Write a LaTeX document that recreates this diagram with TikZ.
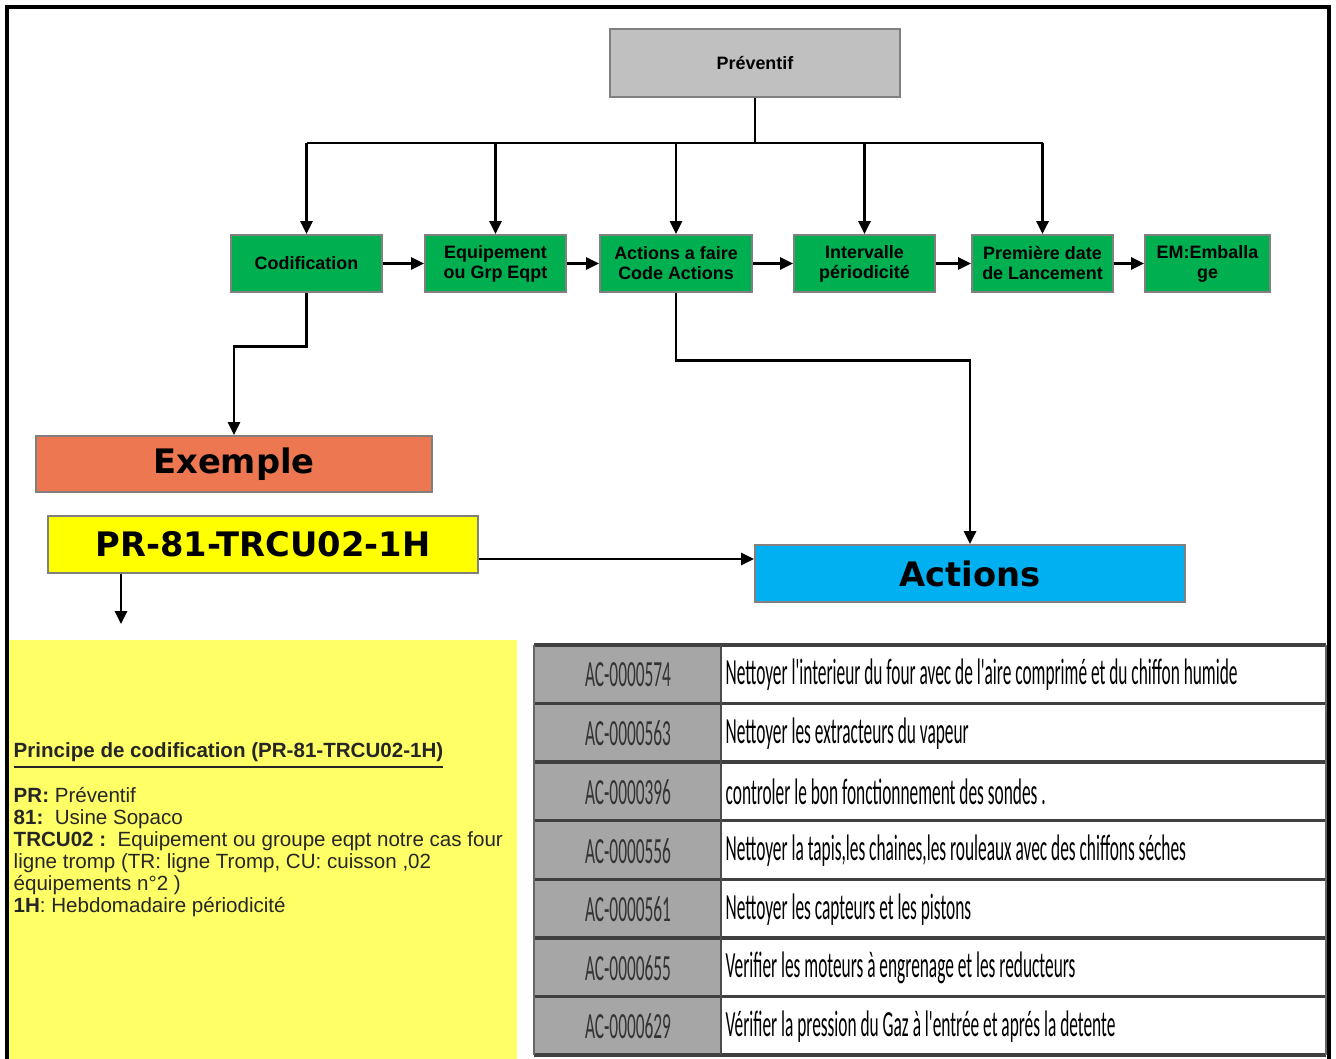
\documentclass[tikz,border=0pt]{standalone}
\usepackage{fontspec}
\setmainfont{Liberation Sans}
\newfontfamily\titlefont{DejaVu Sans}
\newfontfamily\narrowfont[FakeStretch=0.47]{Carlito}
\definecolor{prevGray}{RGB}{192,192,192}
\definecolor{boxGreen}{RGB}{0,176,80}
\definecolor{exOrange}{RGB}{237,119,80}
\definecolor{codeYellow}{RGB}{255,255,0}
\definecolor{actBlue}{RGB}{0,176,240}
\definecolor{panelYellow}{RGB}{255,255,102}
\definecolor{cellGray}{RGB}{166,166,166}
\definecolor{edgeGray}{RGB}{128,128,128}
\usetikzlibrary{arrows.meta,calc}

\begin{document}
\begin{tikzpicture}[x=0.1mm, y=-0.1mm,
    box/.style={rectangle, draw=edgeGray, line width=0.5pt, inner sep=0pt,
                align=center, font=\bfseries\fontsize{5.1}{5.7}\selectfont},
    stepbox/.style={box, fill=boxGreen, minimum height=5.7mm},
    bigbox/.style={box, minimum height=5.7mm,
                   font=\titlefont\bfseries\fontsize{9.6}{11}\selectfont},
    line/.style={line width=0.8pt},
    arr/.style={line, -{Triangle[length=1.3mm, width=1.2mm]}}
  ]
  \useasboundingbox (0,0) rectangle (1336,1059);
  % frame
  \draw[line width=1pt] (7,1059) -- (7,7) -- (1329,7) -- (1329,1059);

  % top row
  \node[box, fill=prevGray, minimum width=29mm, minimum height=6.8mm] (prev) at (755,63) {Préventif};
  \node[stepbox, minimum width=15.1mm] (cod)   at (306.5,263.5) {Codification};
  \node[stepbox, minimum width=14.1mm] (eqp)   at (495.5,263.5) {Equipement\\ou Grp Eqpt};
  \node[stepbox, minimum width=15.2mm] (act)   at (676,263.5)   {Actions a faire\\Code Actions};
  \node[stepbox, minimum width=14.1mm] (inter) at (864.5,263.5) {Intervalle\\périodicité};
  \node[stepbox, minimum width=14.1mm] (prem)  at (1042.5,263.5) {Première date\\de Lancement};
  \node[stepbox, minimum width=12.5mm] (emb)   at (1207.5,263.5) {EM:Emballa\\ge};

  \coordinate (bus) at (755,143);
  \draw[line] (prev.south) -- (bus);
  \draw[line] (bus -| cod.north) -- (bus -| prem.north);
  \foreach \n in {cod,eqp,act,inter,prem}
    \draw[arr] (bus -| \n.north) -- (\n.north);
  \draw[arr] (cod) -- (eqp);
  \draw[arr] (eqp) -- (act);
  \draw[arr] (act) -- (inter);
  \draw[arr] (inter) -- (prem);
  \draw[arr] (prem) -- (emb);

  % example
  \node[bigbox, fill=exOrange, minimum width=39.6mm, minimum height=5.6mm] (ex) at (234,464) {Exemple};
  \node[bigbox, fill=codeYellow, minimum width=43mm] (code) at (263,544.5) {PR-81-TRCU02-1H};
  \node[bigbox, fill=actBlue, minimum width=43mm] (actions) at (970,573.5) {Actions};

  \draw[arr] (cod.south) -- ++(0,54) -| (ex.north);
  \draw[arr] (act.south) -- ++(0,68) -| (actions.north);
  \draw[arr] ([yshift=-1.45mm]code.east) -- ([yshift=-1.45mm]code.east -| actions.west);
  \coordinate (codeend) at (121,624);
  \draw[arr] (code.south -| codeend) -- (codeend);

  % principle panel
  \fill[panelYellow] (9,640) rectangle (517,1059);
  \node[anchor=north west, inner sep=0pt, align=left, text=black!85,
        font=\fontsize{5.85}{6.26}\selectfont] (rule) at (13,742)
    {\textbf{\underline{Principe de codification (PR-81-TRCU02-1H)}}\\[4.3pt]
     \textbf{PR:} Préventif\\
     \textbf{81:}\ \ Usine Sopaco\\
     \textbf{TRCU02 :}\ \ Equipement ou groupe eqpt notre cas four\\
     ligne tromp (TR: ligne Tromp, CU: cuisson ,02\\
     équipements n°2 )\\
     \textbf{1H}: Hebdomadaire périodicité};

  % actions table
  \foreach \c/\t [count=\i] in {
      AC-0000574/{Nettoyer l'interieur du four avec de l'aire comprimé et du chiffon humide},
      AC-0000563/{Nettoyer les extracteurs du vapeur},
      AC-0000396/{controler le bon fonctionnement des sondes .},
      AC-0000556/{Nettoyer la tapis,les chaines,les rouleaux avec des chiffons séches},
      AC-0000561/{Nettoyer les capteurs et les pistons},
      AC-0000655/{Verifier les moteurs à engrenage et les reducteurs},
      AC-0000629/{Vérifier la pression du Gaz à l'entrée et aprés la detente}} {
    \pgfmathsetmacro\top{645+(\i-1)*58.57}
    \fill[cellGray] (534,\top) rectangle (721,\top+58.57);
    \node[text=black!80, font=\narrowfont\fontsize{10.5}{12}\selectfont] (c\i) at (628,\top+30) {\c};
    \node[anchor=west, inner sep=0pt, font=\narrowfont\fontsize{10.5}{12}\selectfont] (t\i) at (725,\top+30) {\t};
    \draw[black!75, line width=1pt] (534,\top) -- (1326,\top);
  }
  \draw[black!75, line width=1pt] (534,1055) -- (1326,1055);
  \draw[black!60, line width=0.6pt] (534,645) -- (534,1055);
  \draw[black!70, line width=0.6pt] (721,645) -- (721,1055);
  \draw[black!60, line width=0.6pt] (1326,645) -- (1326,1055);
\end{tikzpicture}
\end{document}
